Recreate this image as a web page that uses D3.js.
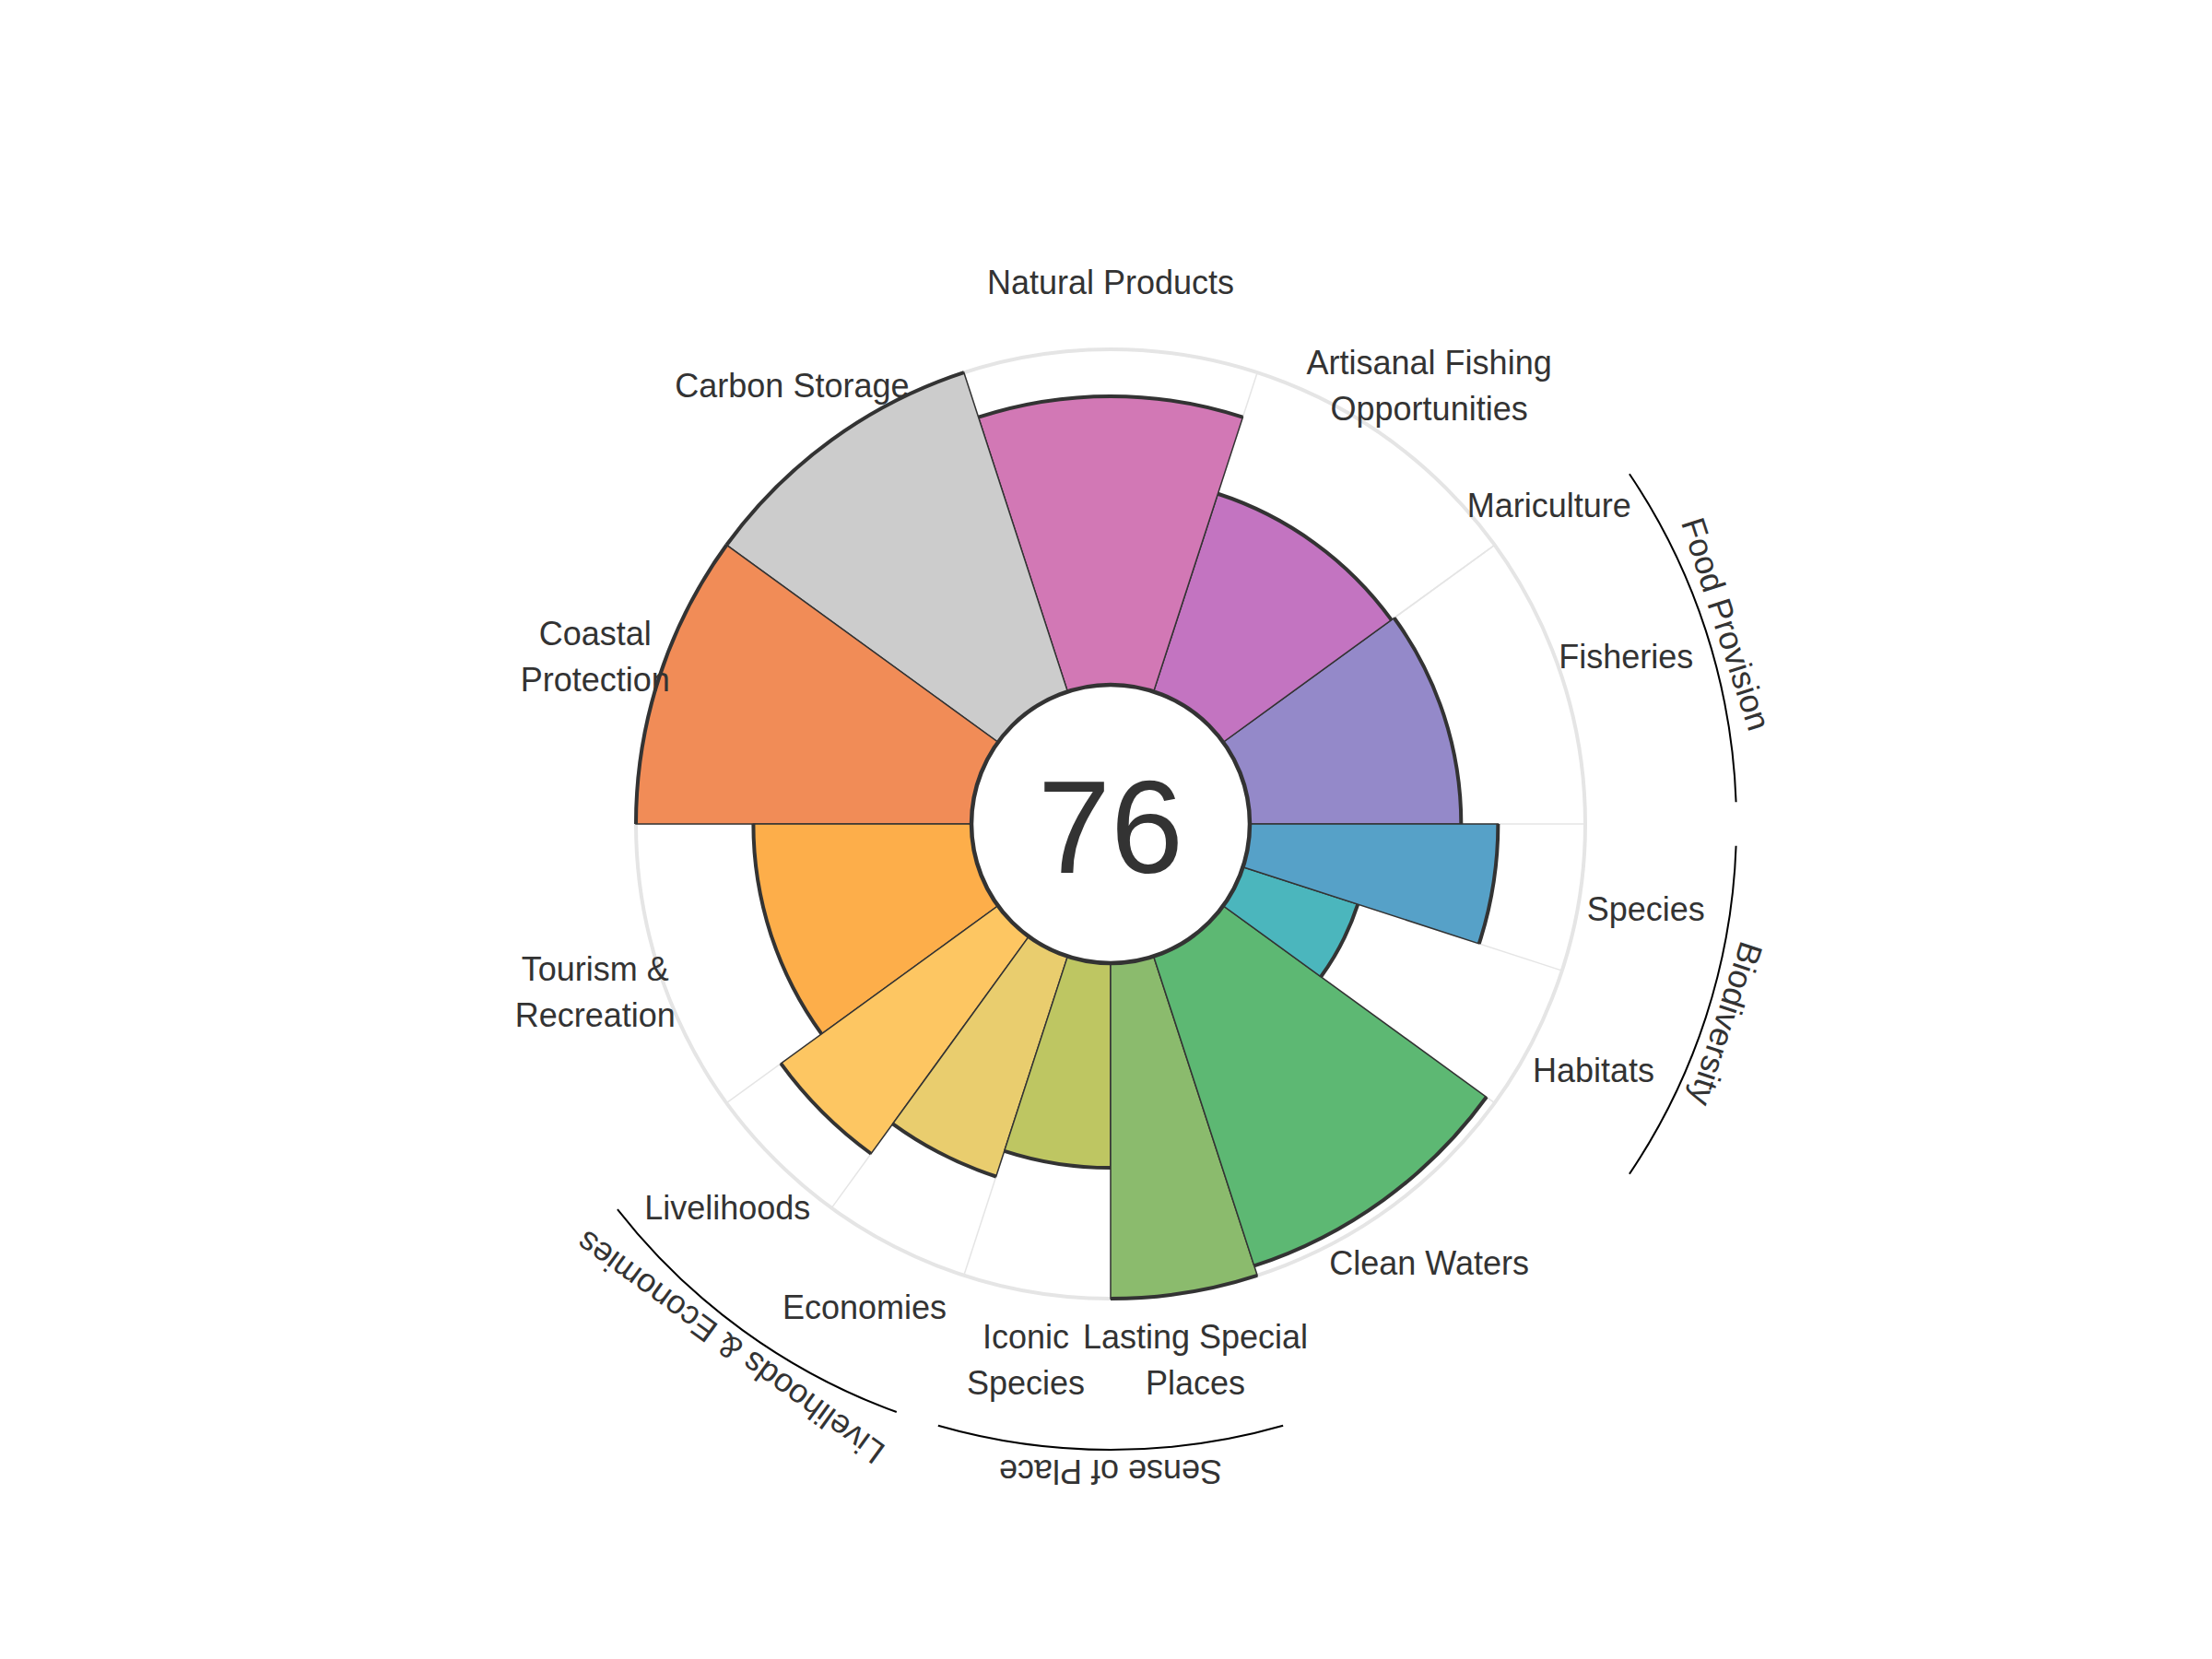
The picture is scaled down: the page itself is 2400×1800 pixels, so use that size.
<!DOCTYPE html>
<html>
<head>
<meta charset="utf-8">
<script src="https://cdn.jsdelivr.net/npm/d3@7"></script>
<style>
  body { margin: 0; background: #fff; }
  text { font-family: "Liberation Sans", Arial, Helvetica, sans-serif; fill: #333; }
</style>
</head>
<body>
<div class="chart"></div>
<script>
// goals go counter-clockwise starting at 3 o'clock
const goals = ["Fisheries", "Mariculture", "Artisanal Fishing Opportunities", "Natural Products",
    "Carbon Storage", "Coastal Protection", "Tourism & Recreation", "Livelihoods", "Economies",
    "Iconic Species", "Lasting Special Places", "Clean Waters", "Habitats", "Species"]
const goalLabels = [["Fisheries"], ["Mariculture"], ["Artisanal Fishing", "Opportunities"], ["Natural Products"],
    ["Carbon Storage"], ["Coastal", "Protection"], ["Tourism &", "Recreation"], ["Livelihoods"], ["Economies"],
    ["Iconic", "Species"], ["Lasting Special", "Places"], ["Clean Waters"], ["Habitats"], ["Species"]]
const scores = [63, null, 62, 86, 100, 100, 65, 80, 69, 61, 100, 97, 36, 74]
const weights = [1, 0, 1, 1, 1, 1, 1, 0.5, 0.5, 0.5, 0.5, 1, 0.5, 0.5]
const colors = ["#9489c9", "#a98bc9", "#c374c1", "#d278b5", "#cccccc", "#f18c57", "#fdae4a",
    "#fdc662", "#e9cd6e", "#bec662", "#8bbb6d", "#5db873", "#4bb6bd", "#56a1c8"]

const groupNames = ["Food Provision", "Livelihoods & Economies", "Sense of Place", "Biodiversity"]
const groupGoals = [["Fisheries", "Mariculture"], ["Livelihoods", "Economies"],
    ["Iconic Species", "Lasting Special Places"], ["Habitats", "Species"]]

const overallScore = 76

function drawFlower() {
    const dimensions = {
        width: 2400,
        height: 1800,
        cx: 1205,
        cy: 894,
        innerR: 151,
        outerR: 515
    }

    const svg = d3.select(".chart")
        .append("svg")
        .attr("width", dimensions.width)
        .attr("height", dimensions.height)

    svg.append("rect")
        .attr("width", dimensions.width)
        .attr("height", dimensions.height)
        .attr("fill", "#fff")

    const container = svg.append("g")
        .attr("transform", `translate(${dimensions.cx}, ${dimensions.cy})`)

    // angle in "math" sense (ccw from east), converted for d3 (cw from north)
    const angleScale = d3.scaleLinear()
        .domain([0, d3.sum(weights)])
        .range([0, 2 * Math.PI])
    const toD3 = (a) => Math.PI / 2 - a

    const rScale = d3.scaleLinear()
        .domain([0, 100])
        .range([dimensions.innerR, dimensions.outerR])

    const cum = d3.cumsum(weights)
    const data = goals.map((g, i) => ({
        goal: g,
        label: goalLabels[i],
        score: scores[i],
        color: colors[i],
        a0: angleScale(cum[i] - weights[i]),
        a1: angleScale(cum[i])
    }))

    // background: outer ring and radial grid lines
    container.append("circle")
        .attr("r", rScale(100))
        .attr("fill", "none")
        .attr("stroke", "#e5e5e5")
        .attr("stroke-width", 4)

    container.selectAll(".grid")
        .data(data)
        .join("line")
        .attr("class", "grid")
        .attr("x1", (d) => d3.pointRadial(toD3(d.a0), rScale(0))[0])
        .attr("y1", (d) => d3.pointRadial(toD3(d.a0), rScale(0))[1])
        .attr("x2", (d) => d3.pointRadial(toD3(d.a0), rScale(100))[0])
        .attr("y2", (d) => d3.pointRadial(toD3(d.a0), rScale(100))[1])
        .attr("stroke", "#e5e5e5")
        .attr("stroke-width", 1.5)

    const bars = data.filter((d) => d.score != null && d.a1 > d.a0)

    const arc = d3.arc()
        .innerRadius(rScale(0))
        .outerRadius((d) => rScale(d.score))
        .startAngle((d) => toD3(d.a1))
        .endAngle((d) => toD3(d.a0))

    container.selectAll(".petal")
        .data(bars)
        .join("path")
        .attr("class", "petal")
        .attr("d", arc)
        .attr("fill", (d) => d.color)
        .attr("stroke", "#333")
        .attr("stroke-width", 1.5)

    // heavier outline along the outer edge of each petal
    container.selectAll(".rim")
        .data(bars)
        .join("path")
        .attr("class", "rim")
        .attr("d", (d) => {
            const p = d3.path()
            const r = rScale(d.score)
            p.arc(0, 0, r, -d.a0, -d.a1, true)
            return p.toString()
        })
        .attr("fill", "none")
        .attr("stroke", "#333")
        .attr("stroke-width", 4)

    container.append("circle")
        .attr("r", rScale(0))
        .attr("fill", "#fff")
        .attr("stroke", "#333")
        .attr("stroke-width", 4.5)

    container.append("text")
        .attr("text-anchor", "middle")
        .attr("y", 53)
        .attr("font-size", 142)
        .text(overallScore)

    // goal labels
    const lineH = 50
    const labels = container.selectAll(".label")
        .data(data)
        .join("text")
        .attr("class", "label")
        .attr("font-size", 36)
        .attr("text-anchor", "middle")
        .attr("dominant-baseline", "central")
        .attr("transform", (d) => {
            const [x, y] = d3.pointRadial(toD3((d.a0 + d.a1) / 2), 588)
            return `translate(${x}, ${y})`
        })
    labels.selectAll("tspan")
        .data((d) => d.label.map((t, i) => ({ t, i, n: d.label.length })))
        .join("tspan")
        .attr("x", 0)
        .attr("y", (d) => (d.i - (d.n - 1) / 2) * lineH)
        .text((d) => d.t)

    // group arcs and rotated names
    const pad = 2 * Math.PI / 180
    const groups = groupNames.map((name, i) => {
        const members = data.filter((d) => groupGoals[i].includes(d.goal))
        return { name, a0: d3.min(members, (d) => d.a0), a1: d3.max(members, (d) => d.a1) }
    })

    container.selectAll(".group-arc")
        .data(groups)
        .join("path")
        .attr("class", "group-arc")
        .attr("d", (d) => {
            const p = d3.path()
            p.arc(0, 0, 679, -(d.a0 + pad), -(d.a1 - pad), true)
            return p.toString()
        })
        .attr("fill", "none")
        .attr("stroke", "#000")
        .attr("stroke-width", 2)

    container.selectAll(".group-label")
        .data(groups)
        .join("text")
        .attr("class", "group-label")
        .attr("font-size", 36)
        .attr("text-anchor", "middle")
        .attr("dominant-baseline", "central")
        .attr("transform", (d) => {
            const mid = (d.a0 + d.a1) / 2
            const [x, y] = d3.pointRadial(toD3(mid), 702)
            return `translate(${x}, ${y}) rotate(${90 - mid * 180 / Math.PI})`
        })
        .text((d) => d.name)
}

drawFlower()
</script>
</body>
</html>
